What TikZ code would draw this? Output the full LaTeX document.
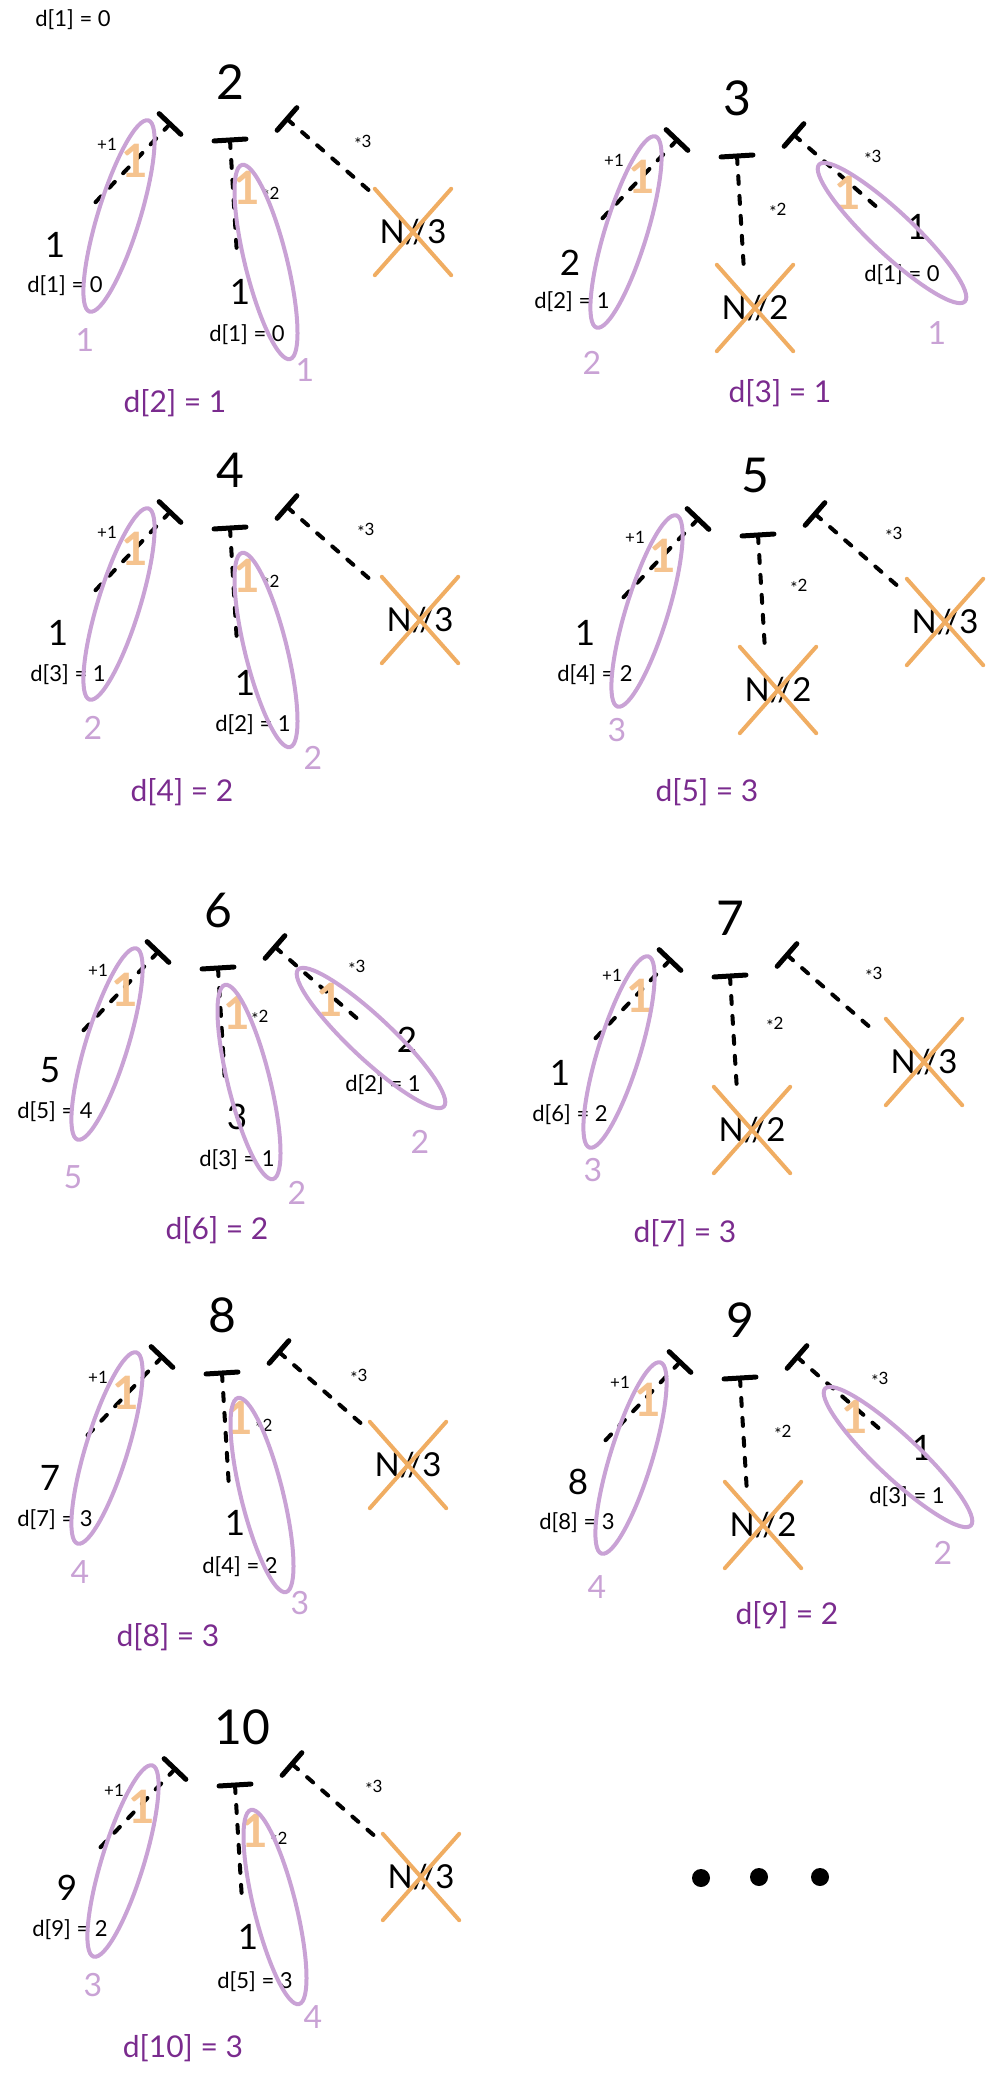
\documentclass[tikz,border=0pt]{standalone}
\usepackage{fontspec}
\setmainfont{Lato}
\usepackage{xcolor}
\usepackage{tikz}
\usetikzlibrary{calc,shapes.geometric}

\definecolor{lav}{HTML}{C9A2D5}
\definecolor{dpurple}{HTML}{7A2B8E}
\definecolor{orng}{HTML}{F0AD62}
\definecolor{peach}{HTML}{F5C38F}

\newcommand{\lowstar}{\raisebox{-.35ex}{*}}

\begin{document}
\begin{tikzpicture}[x=1pt, y=-1pt, line cap=round, every node/.style={inner sep=0pt},
num/.style={font=\fontsize{48}{50}\selectfont},
kid/.style={font=\fontsize{35}{37}\selectfont},
dlabel/.style={font=\fontsize{22}{24}\selectfont},
oplabel/.style={font=\fontsize{17}{19}\selectfont},
tally/.style={text=lav,font=\fontsize{32}{34}\selectfont},
result/.style={text=dpurple,font=\fontsize{30}{32}\selectfont},
nope/.style={font=\fontsize{33}{35}\selectfont,minimum width=76pt,minimum height=86pt},
chosen/.style={draw=lav,line width=4pt,ellipse,minimum width=200pt,minimum height=42pt},
onemark/.style={text=peach,font=\bfseries\fontsize{46}{48}\selectfont},
tbar/.style={line width=5pt},
branch/.style={line width=4pt,dash pattern=on 8pt off 12pt},
strike/.style={draw=orng,line width=4pt},
dot/.style={circle,fill,minimum size=18pt}]
\useasboundingbox (0,0) rectangle (992,2076);
\node[dlabel] (d1) at (73,20) {d[1] = 0};

% n = 2
\begin{scope}[shift={(230,82)}]
\node[num] (p2) at (0,0) {2};
\coordinate (p2l) at (-60,42);
\coordinate (p2lend) at (-140,126);
\coordinate (p2m) at (0,58);
\coordinate (p2mend) at (7,173);
\coordinate (p2r) at (57,37);
\coordinate (p2rend) at (142,111);
\draw[tbar] ($(p2l)!15pt!90:(p2lend)$) -- ($(p2l)!15pt!-90:(p2lend)$);
\draw[tbar] ($(p2m)!16pt!90:(p2mend)$) -- ($(p2m)!16pt!-90:(p2mend)$);
\draw[tbar] ($(p2r)!15pt!90:(p2rend)$) -- ($(p2r)!15pt!-90:(p2rend)$);
\draw[branch] (p2l) -- (p2lend);
\draw[branch] (p2m) -- (p2mend);
\draw[branch] (p2r) -- (p2rend);
\node[oplabel] (p2o1) at (-123,62) {+1};
\node[oplabel] (p2o2) at (41,113) {\lowstar2};
\node[oplabel] (p2o3) at (133,61) {\lowstar3};
\node[kid] (p2lk) at (-175,163) {1};
\node[dlabel] (p2ld) at (-165,204) {d[1] = 0};
\node[onemark] (p2l1) at (-95,79) {1};
\node[chosen,rotate=72.9] (p2le) at (-111,134) {};
\node[tally] (p2lc) at (-145,258) {1};
\node[kid] (p2mk) at (10,210) {1};
\node[dlabel] (p2md) at (17,253) {d[1] = 0};
\node[onemark] (p2m1) at (17,106) {1};
\node[chosen,rotate=103.9] (p2me) at (36,180) {};
\node[tally] (p2mc) at (75,288) {1};
\node[nope] (p2rx) at (183,150) {N//3};
\draw[strike] (p2rx.north west) -- (p2rx.south east);
\draw[strike] (p2rx.south west) -- (p2rx.north east);
\node[result] (p2d) at (-55,321) {d[2] = 1};
\end{scope}

% n = 3
\begin{scope}[shift={(737,98)}]
\node[num] (p3) at (0,0) {3};
\coordinate (p3l) at (-60,42);
\coordinate (p3lend) at (-140,126);
\coordinate (p3m) at (0,58);
\coordinate (p3mend) at (7,173);
\coordinate (p3r) at (57,37);
\coordinate (p3rend) at (142,111);
\draw[tbar] ($(p3l)!15pt!90:(p3lend)$) -- ($(p3l)!15pt!-90:(p3lend)$);
\draw[tbar] ($(p3m)!16pt!90:(p3mend)$) -- ($(p3m)!16pt!-90:(p3mend)$);
\draw[tbar] ($(p3r)!15pt!90:(p3rend)$) -- ($(p3r)!15pt!-90:(p3rend)$);
\draw[branch] (p3l) -- (p3lend);
\draw[branch] (p3m) -- (p3mend);
\draw[branch] (p3r) -- (p3rend);
\node[oplabel] (p3o1) at (-123,62) {+1};
\node[oplabel] (p3o2) at (41,113) {\lowstar2};
\node[oplabel] (p3o3) at (136,60) {\lowstar3};
\node[kid] (p3lk) at (-167,165) {2};
\node[dlabel] (p3ld) at (-165,204) {d[2] = 1};
\node[onemark] (p3l1) at (-95,79) {1};
\node[chosen,rotate=72.9] (p3le) at (-111,134) {};
\node[tally] (p3lc) at (-145,265) {2};
\node[nope] (p3mx) at (18,210) {N//2};
\draw[strike] (p3mx.north west) -- (p3mx.south east);
\draw[strike] (p3mx.south west) -- (p3mx.north east);
\node[kid] (p3rk) at (180,129) {1};
\node[dlabel] (p3rd) at (165,177) {d[1] = 0};
\node[onemark] (p3r1) at (111,95) {1};
\node[chosen,rotate=-43.2] (p3re) at (155,135) {};
\node[tally] (p3rc) at (200,235) {1};
\node[result] (p3d) at (43,295) {d[3] = 1};
\end{scope}

% n = 4
\begin{scope}[shift={(230,470)}]
\node[num] (p4) at (0,0) {4};
\coordinate (p4l) at (-60,42);
\coordinate (p4lend) at (-140,126);
\coordinate (p4m) at (0,58);
\coordinate (p4mend) at (7,173);
\coordinate (p4r) at (57,37);
\coordinate (p4rend) at (142,111);
\draw[tbar] ($(p4l)!15pt!90:(p4lend)$) -- ($(p4l)!15pt!-90:(p4lend)$);
\draw[tbar] ($(p4m)!16pt!90:(p4mend)$) -- ($(p4m)!16pt!-90:(p4mend)$);
\draw[tbar] ($(p4r)!15pt!90:(p4rend)$) -- ($(p4r)!15pt!-90:(p4rend)$);
\draw[branch] (p4l) -- (p4lend);
\draw[branch] (p4m) -- (p4mend);
\draw[branch] (p4r) -- (p4rend);
\node[oplabel] (p4o1) at (-123,62) {+1};
\node[oplabel] (p4o2) at (41,113) {\lowstar2};
\node[oplabel] (p4o3) at (136,61) {\lowstar3};
\node[kid] (p4lk) at (-172,163) {1};
\node[dlabel] (p4ld) at (-162,205) {d[3] = 1};
\node[onemark] (p4l1) at (-95,79) {1};
\node[chosen,rotate=72.9] (p4le) at (-111,134) {};
\node[tally] (p4lc) at (-137,258) {2};
\node[kid] (p4mk) at (15,213) {1};
\node[dlabel] (p4md) at (23,255) {d[2] = 1};
\node[onemark] (p4m1) at (17,106) {1};
\node[chosen,rotate=103.9] (p4me) at (36,180) {};
\node[tally] (p4mc) at (83,288) {2};
\node[nope] (p4rx) at (190,150) {N//3};
\draw[strike] (p4rx.north west) -- (p4rx.south east);
\draw[strike] (p4rx.south west) -- (p4rx.north east);
\node[result] (p4d) at (-48,322) {d[4] = 2};
\end{scope}

% n = 5
\begin{scope}[shift={(758,477)}]
\node[num] (p5) at (-3,-2) {5};
\coordinate (p5l) at (-60,42);
\coordinate (p5lend) at (-140,126);
\coordinate (p5m) at (0,58);
\coordinate (p5mend) at (7,173);
\coordinate (p5r) at (57,37);
\coordinate (p5rend) at (142,111);
\draw[tbar] ($(p5l)!15pt!90:(p5lend)$) -- ($(p5l)!15pt!-90:(p5lend)$);
\draw[tbar] ($(p5m)!16pt!90:(p5mend)$) -- ($(p5m)!16pt!-90:(p5mend)$);
\draw[tbar] ($(p5r)!15pt!90:(p5rend)$) -- ($(p5r)!15pt!-90:(p5rend)$);
\draw[branch] (p5l) -- (p5lend);
\draw[branch] (p5m) -- (p5mend);
\draw[branch] (p5r) -- (p5rend);
\node[oplabel] (p5o1) at (-123,60) {+1};
\node[oplabel] (p5o2) at (41,110) {\lowstar2};
\node[oplabel] (p5o3) at (136,58) {\lowstar3};
\node[kid] (p5lk) at (-173,156) {1};
\node[dlabel] (p5ld) at (-163,198) {d[4] = 2};
\node[onemark] (p5l1) at (-95,79) {1};
\node[chosen,rotate=72.9] (p5le) at (-111,134) {};
\node[tally] (p5lc) at (-141,253) {3};
\node[nope] (p5mx) at (20,213) {N//2};
\draw[strike] (p5mx.north west) -- (p5mx.south east);
\draw[strike] (p5mx.south west) -- (p5mx.north east);
\node[nope] (p5rx) at (187,145) {N//3};
\draw[strike] (p5rx.north west) -- (p5rx.south east);
\draw[strike] (p5rx.south west) -- (p5rx.north east);
\node[result] (p5d) at (-51,315) {d[5] = 3};
\end{scope}

% n = 6
\begin{scope}[shift={(218,910)}]
\node[num] (p6) at (0,0) {6};
\coordinate (p6l) at (-60,42);
\coordinate (p6lend) at (-140,126);
\coordinate (p6m) at (0,58);
\coordinate (p6mend) at (7,173);
\coordinate (p6r) at (57,37);
\coordinate (p6rend) at (142,111);
\draw[tbar] ($(p6l)!15pt!90:(p6lend)$) -- ($(p6l)!15pt!-90:(p6lend)$);
\draw[tbar] ($(p6m)!16pt!90:(p6mend)$) -- ($(p6m)!16pt!-90:(p6mend)$);
\draw[tbar] ($(p6r)!15pt!90:(p6rend)$) -- ($(p6r)!15pt!-90:(p6rend)$);
\draw[branch] (p6l) -- (p6lend);
\draw[branch] (p6m) -- (p6mend);
\draw[branch] (p6r) -- (p6rend);
\node[oplabel] (p6o1) at (-120,60) {+1};
\node[oplabel] (p6o2) at (42,108) {\lowstar2};
\node[oplabel] (p6o3) at (139,58) {\lowstar3};
\node[kid] (p6lk) at (-168,160) {5};
\node[dlabel] (p6ld) at (-163,202) {d[5] = 4};
\node[onemark] (p6l1) at (-93,80) {1};
\node[chosen,rotate=72.9] (p6le) at (-111,134) {};
\node[tally] (p6lc) at (-145,267) {5};
\node[kid] (p6mk) at (19,207) {3};
\node[dlabel] (p6md) at (19,250) {d[3] = 1};
\node[onemark] (p6m1) at (19,103) {1};
\node[chosen,rotate=103.9] (p6me) at (31,172) {};
\node[tally] (p6mc) at (79,283) {2};
\node[kid] (p6rk) at (189,130) {2};
\node[dlabel] (p6rd) at (165,175) {d[2] = 1};
\node[onemark] (p6r1) at (112,90) {1};
\node[chosen,rotate=-43.2] (p6re) at (153,128) {};
\node[tally] (p6rc) at (202,232) {2};
\node[result] (p6d) at (-1,320) {d[6] = 2};
\end{scope}

% n = 7
\begin{scope}[shift={(730,918)}]
\node[num] (p7) at (0,0) {7};
\coordinate (p7l) at (-60,42);
\coordinate (p7lend) at (-140,126);
\coordinate (p7m) at (0,58);
\coordinate (p7mend) at (7,173);
\coordinate (p7r) at (57,37);
\coordinate (p7rend) at (142,111);
\draw[tbar] ($(p7l)!15pt!90:(p7lend)$) -- ($(p7l)!15pt!-90:(p7lend)$);
\draw[tbar] ($(p7m)!16pt!90:(p7mend)$) -- ($(p7m)!16pt!-90:(p7mend)$);
\draw[tbar] ($(p7r)!15pt!90:(p7rend)$) -- ($(p7r)!15pt!-90:(p7rend)$);
\draw[branch] (p7l) -- (p7lend);
\draw[branch] (p7m) -- (p7mend);
\draw[branch] (p7r) -- (p7rend);
\node[oplabel] (p7o1) at (-118,57) {+1};
\node[oplabel] (p7o2) at (45,107) {\lowstar2};
\node[oplabel] (p7o3) at (144,57) {\lowstar3};
\node[kid] (p7lk) at (-170,155) {1};
\node[dlabel] (p7ld) at (-160,197) {d[6] = 2};
\node[onemark] (p7l1) at (-90,78) {1};
\node[chosen,rotate=72.9] (p7le) at (-111,134) {};
\node[tally] (p7lc) at (-137,252) {3};
\node[nope] (p7mx) at (22,212) {N//2};
\draw[strike] (p7mx.north west) -- (p7mx.south east);
\draw[strike] (p7mx.south west) -- (p7mx.north east);
\node[nope] (p7rx) at (194,144) {N//3};
\draw[strike] (p7rx.north west) -- (p7rx.south east);
\draw[strike] (p7rx.south west) -- (p7rx.north east);
\node[result] (p7d) at (-45,315) {d[7] = 3};
\end{scope}

% n = 8
\begin{scope}[shift={(222,1315)}]
\node[num] (p8) at (0,0) {8};
\coordinate (p8l) at (-60,42);
\coordinate (p8lend) at (-140,126);
\coordinate (p8m) at (0,58);
\coordinate (p8mend) at (7,173);
\coordinate (p8r) at (57,37);
\coordinate (p8rend) at (142,111);
\draw[tbar] ($(p8l)!15pt!90:(p8lend)$) -- ($(p8l)!15pt!-90:(p8lend)$);
\draw[tbar] ($(p8m)!16pt!90:(p8mend)$) -- ($(p8m)!16pt!-90:(p8mend)$);
\draw[tbar] ($(p8r)!15pt!90:(p8rend)$) -- ($(p8r)!15pt!-90:(p8rend)$);
\draw[branch] (p8l) -- (p8lend);
\draw[branch] (p8m) -- (p8mend);
\draw[branch] (p8r) -- (p8rend);
\node[oplabel] (p8o1) at (-124,62) {+1};
\node[oplabel] (p8o2) at (42,112) {\lowstar2};
\node[oplabel] (p8o3) at (137,62) {\lowstar3};
\node[kid] (p8lk) at (-172,163) {7};
\node[dlabel] (p8ld) at (-167,205) {d[7] = 3};
\node[onemark] (p8l1) at (-96,78) {1};
\node[chosen,rotate=72.9] (p8le) at (-115,133) {};
\node[tally] (p8lc) at (-142,257) {4};
\node[kid] (p8mk) at (13,208) {1};
\node[dlabel] (p8md) at (18,252) {d[4] = 2};
\node[onemark] (p8m1) at (18,103) {1};
\node[chosen,rotate=103.9] (p8me) at (40,180) {};
\node[tally] (p8mc) at (78,288) {3};
\node[nope] (p8rx) at (186,150) {N//3};
\draw[strike] (p8rx.north west) -- (p8rx.south east);
\draw[strike] (p8rx.south west) -- (p8rx.north east);
\node[result] (p8d) at (-54,322) {d[8] = 3};
\end{scope}

% n = 9
\begin{scope}[shift={(740,1320)}]
\node[num] (p9) at (0,0) {9};
\coordinate (p9l) at (-60,42);
\coordinate (p9lend) at (-140,126);
\coordinate (p9m) at (0,58);
\coordinate (p9mend) at (7,173);
\coordinate (p9r) at (57,37);
\coordinate (p9rend) at (142,111);
\draw[tbar] ($(p9l)!15pt!90:(p9lend)$) -- ($(p9l)!15pt!-90:(p9lend)$);
\draw[tbar] ($(p9m)!16pt!90:(p9mend)$) -- ($(p9m)!16pt!-90:(p9mend)$);
\draw[tbar] ($(p9r)!15pt!90:(p9rend)$) -- ($(p9r)!15pt!-90:(p9rend)$);
\draw[branch] (p9l) -- (p9lend);
\draw[branch] (p9m) -- (p9mend);
\draw[branch] (p9r) -- (p9rend);
\node[oplabel] (p9o1) at (-120,62) {+1};
\node[oplabel] (p9o2) at (43,113) {\lowstar2};
\node[oplabel] (p9o3) at (140,60) {\lowstar3};
\node[kid] (p9lk) at (-162,162) {8};
\node[dlabel] (p9ld) at (-163,203) {d[8] = 3};
\node[onemark] (p9l1) at (-92,80) {1};
\node[chosen,rotate=72.9] (p9le) at (-109,138) {};
\node[tally] (p9lc) at (-143,267) {4};
\node[nope] (p9mx) at (23,205) {N//2};
\draw[strike] (p9mx.north west) -- (p9mx.south east);
\draw[strike] (p9mx.south west) -- (p9mx.north east);
\node[kid] (p9rk) at (182,128) {1};
\node[dlabel] (p9rd) at (167,177) {d[3] = 1};
\node[onemark] (p9r1) at (115,97) {1};
\node[chosen,rotate=-43.2] (p9re) at (158,137) {};
\node[tally] (p9rc) at (203,233) {2};
\node[result] (p9d) at (47,295) {d[9] = 2};
\end{scope}

% n = 10
\begin{scope}[shift={(235,1727)}]
\node[num] (p10) at (7,0) {10};
\coordinate (p10l) at (-60,42);
\coordinate (p10lend) at (-140,126);
\coordinate (p10m) at (0,58);
\coordinate (p10mend) at (7,173);
\coordinate (p10r) at (57,37);
\coordinate (p10rend) at (142,111);
\draw[tbar] ($(p10l)!15pt!90:(p10lend)$) -- ($(p10l)!15pt!-90:(p10lend)$);
\draw[tbar] ($(p10m)!16pt!90:(p10mend)$) -- ($(p10m)!16pt!-90:(p10mend)$);
\draw[tbar] ($(p10r)!15pt!90:(p10rend)$) -- ($(p10r)!15pt!-90:(p10rend)$);
\draw[branch] (p10l) -- (p10lend);
\draw[branch] (p10m) -- (p10mend);
\draw[branch] (p10r) -- (p10rend);
\node[oplabel] (p10o1) at (-121,63) {+1};
\node[oplabel] (p10o2) at (44,113) {\lowstar2};
\node[oplabel] (p10o3) at (139,61) {\lowstar3};
\node[kid] (p10lk) at (-168,161) {9};
\node[dlabel] (p10ld) at (-165,203) {d[9] = 2};
\node[onemark] (p10l1) at (-93,80) {1};
\node[chosen,rotate=72.9] (p10le) at (-112,134) {};
\node[tally] (p10lc) at (-142,258) {3};
\node[kid] (p10mk) at (13,210) {1};
\node[dlabel] (p10md) at (20,255) {d[5] = 3};
\node[onemark] (p10m1) at (20,104) {1};
\node[chosen,rotate=103.9] (p10me) at (40,180) {};
\node[tally] (p10mc) at (78,290) {4};
\node[nope] (p10rx) at (186,150) {N//3};
\draw[strike] (p10rx.north west) -- (p10rx.south east);
\draw[strike] (p10rx.south west) -- (p10rx.north east);
\node[result] (p10d) at (-52,321) {d[10] = 3};
\end{scope}

\node[dot] (dot1) at (701,1878) {};
\node[dot] (dot2) at (759,1877) {};
\node[dot] (dot3) at (820,1877) {};
\end{tikzpicture}
\end{document}
